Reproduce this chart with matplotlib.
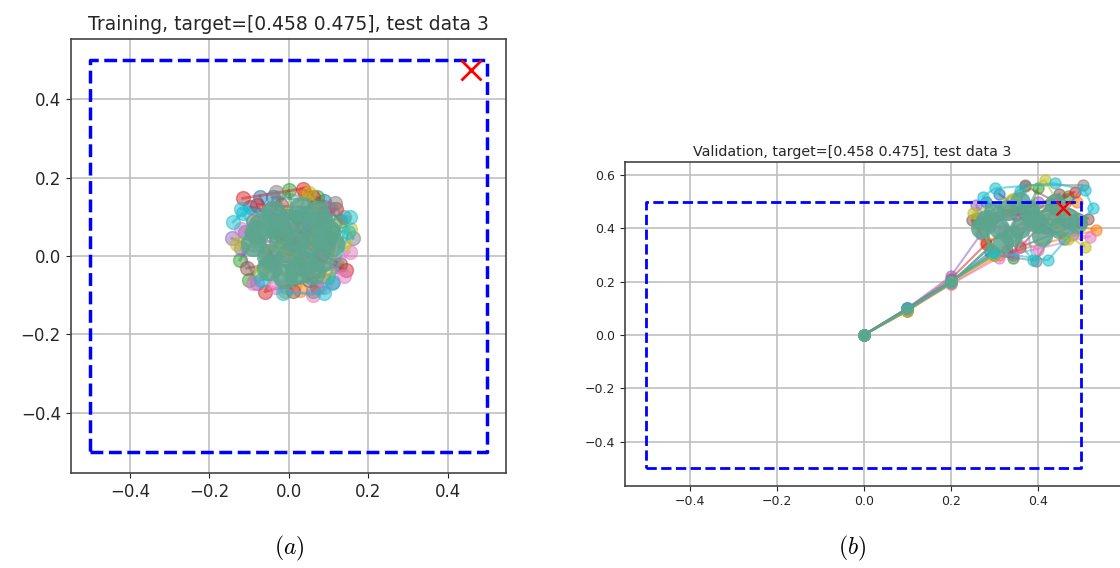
import matplotlib
matplotlib.use('Agg')
import matplotlib.pyplot as plt

# target position
target = [0.458, 0.475]

# training: points per test run (tab10 color order)
train_x = [
    [-0.073, -0.02, 0.03, -0.098, 0.05, -0.05, -0.04, 0.09, -0.11],
    [0.028, 0.06, -0.03, 0.10, -0.06, 0.08, 0.12, -0.01, 0.04],
    [-0.123, 0.0, 0.04, -0.04, 0.11, 0.02, -0.10, 0.07, 0.13],
    [-0.116, 0.036, 0.061, -0.06, 0.145, 0.0, 0.09, 0.12, -0.08, 0.07],
    [-0.143, 0.111, -0.05, 0.03, 0.07, -0.12, -0.08, 0.10],
    [-0.106, 0.08, -0.02, 0.05, 0.13, -0.09, 0.01],
    [-0.09, 0.061, 0.153, -0.031, 0.0, 0.14, -0.12, 0.09],
    [0.162, 0.116, -0.031, 0.02, -0.08, 0.14, 0.06],
    [0.153, -0.07, 0.10, -0.02, -0.13, 0.05, 0.14],
    [-0.14, -0.115, -0.014, 0.09, 0.153, 0.03, -0.12, 0.15, 0.11, -0.07],
]
train_y = [
    [0.151, 0.05, 0.0, 0.126, 0.08, -0.02, 0.15, 0.14, 0.06],
    [-0.087, 0.04, 0.09, 0.02, 0.01, 0.12, -0.02, -0.09, 0.16],
    [-0.01, 0.168, -0.03, 0.06, 0.06, 0.10, -0.06, 0.15, 0.09],
    [0.147, 0.172, 0.151, -0.091, -0.036, 0.02, 0.10, 0.12, 0.13, -0.08],
    [0.045, -0.065, 0.12, 0.06, -0.02, 0.02, -0.07, 0.12],
    [-0.031, 0.0, 0.13, -0.06, -0.02, 0.09, -0.09],
    [-0.07, -0.099, 0.011, -0.078, 0.07, -0.05, 0.07, -0.08],
    [0.045, 0.134, 0.164, 0.03, 0.04, 0.10, -0.09],
    [0.07, -0.04, -0.05, 0.02, 0.03, 0.16, 0.03],
    [0.087, 0.109, -0.095, -0.095, 0.10, 0.11, 0.12, 0.06, -0.07, -0.06],
]
train_core_x = [-0.09, -0.07, -0.05, -0.04, -0.02, 0.0, 0.0, 0.02, 0.03, 0.05, 0.06, 0.08, 0.07,
                0.09, 0.10, -0.08, -0.05, -0.01, 0.04, 0.06, 0.11, 0.02, -0.03, 0.08]
train_core_y = [0.03, 0.08, 0.0, 0.11, 0.05, 0.0, 0.09, -0.04, 0.12, 0.03, 0.08, -0.01, 0.11,
                0.04, 0.06, 0.06, -0.03, -0.05, -0.02, -0.04, 0.03, 0.04, 0.08, 0.09]

# validation: trajectories from the origin
val_x = [
    [0, 0.1, 0.2, 0.29, 0.28, 0.35, 0.42, 0.31, 0.46],
    [0, 0.1, 0.2, 0.31, 0.535, 0.45, 0.33, 0.49, 0.28],
    [0, 0.1, 0.2, 0.30, 0.343, 0.40, 0.37, 0.47, 0.26],
    [0, 0.1, 0.2, 0.28, 0.485, 0.30, 0.44, 0.36, 0.50],
    [0, 0.1, 0.2, 0.27, 0.259, 0.343, 0.40, 0.29, 0.48],
    [0, 0.1, 0.2, 0.30, 0.248, 0.516, 0.37, 0.33, 0.45],
    [0, 0.1, 0.2, 0.31, 0.52, 0.32, 0.46, 0.27, 0.40],
    [0, 0.1, 0.2, 0.30, 0.396, 0.504, 0.37, 0.26, 0.44],
    [0, 0.1, 0.2, 0.30, 0.251, 0.416, 0.508, 0.34, 0.47],
    [0, 0.1, 0.2, 0.30, 0.297, 0.424, 0.527, 0.508, 0.439, 0.301, 0.274, 0.389, 0.36],
]
val_y = [
    [0, 0.10, 0.20, 0.31, 0.50, 0.45, 0.40, 0.53, 0.36],
    [0, 0.09, 0.19, 0.30, 0.394, 0.42, 0.47, 0.50, 0.35],
    [0, 0.095, 0.20, 0.30, 0.29, 0.55, 0.45, 0.52, 0.44],
    [0, 0.10, 0.21, 0.34, 0.537, 0.44, 0.47, 0.33, 0.42],
    [0, 0.10, 0.22, 0.38, 0.487, 0.30, 0.50, 0.41, 0.38],
    [0, 0.09, 0.20, 0.31, 0.431, 0.437, 0.56, 0.32, 0.53],
    [0, 0.095, 0.19, 0.29, 0.369, 0.40, 0.45, 0.44, 0.32],
    [0, 0.10, 0.20, 0.30, 0.279, 0.562, 0.562, 0.42, 0.51],
    [0, 0.09, 0.20, 0.30, 0.456, 0.581, 0.331, 0.51, 0.36],
    [0, 0.10, 0.20, 0.31, 0.312, 0.281, 0.475, 0.544, 0.569, 0.55, 0.519, 0.28, 0.54],
]
val_core_x = [0, 0.1, 0.2, 0.29, 0.28, 0.31, 0.33, 0.36, 0.40, 0.43, 0.38, 0.34, 0.45, 0.47,
              0.30, 0.41, 0.36, 0.49, 0.32, 0.44, 0.39, 0.27]
val_core_y = [0, 0.095, 0.195, 0.33, 0.43, 0.40, 0.47, 0.40, 0.42, 0.45, 0.47, 0.37, 0.40, 0.44,
              0.46, 0.37, 0.50, 0.42, 0.35, 0.49, 0.44, 0.40]

box_x = [-0.5, 0.5, 0.5, -0.5, -0.5]
box_y = [-0.5, -0.5, 0.5, 0.5, -0.5]

colors = ['C%d' % i for i in range(10)]
core_color = '#5ca58e'

plt.rcParams['mathtext.fontset'] = 'cm'
fig = plt.figure(figsize=(11.2, 5.68), dpi=100)

# (a) training
ax1 = fig.add_axes([0.0631, 0.1673, 0.3887, 0.7646])
for i in range(len(train_x)):
    ax1.plot(train_x[i], train_y[i], 'o-', color=colors[i], alpha=0.5, ms=10, lw=2)
ax1.scatter(train_core_x, train_core_y, s=330, color=core_color, alpha=0.85, lw=0, zorder=3)
ax1.plot(box_x, box_y, 'b--', lw=2.5, zorder=4)
ax1.plot(target[0], target[1], 'rx', ms=14, mew=2, zorder=5)
ax1.set_xlim(-0.549, 0.547)
ax1.set_ylim(-0.553, 0.554)
ax1.set_xticks([-0.4, -0.2, 0.0, 0.2, 0.4])
ax1.set_yticks([-0.4, -0.2, 0.0, 0.2, 0.4])
ax1.tick_params(labelsize=12, colors='#262626')
ax1.grid(True, color='#c0c0c0', lw=1.2)
ax1.set_axisbelow(True)
for s in ax1.spines.values():
    s.set_color('#444444')
    s.set_linewidth(1.2)
ax1.set_title('Training, target=[0.458 0.475], test data 3', fontsize=13.5, color='#262626')

# (b) validation
ax2 = fig.add_axes([0.558, 0.1449, 0.4536, 0.5704])
for i in range(len(val_x)):
    ax2.plot(val_x[i], val_y[i], 'o-', color=colors[i], alpha=0.55, ms=8, lw=1.5)
ax2.scatter(val_core_x[4:], val_core_y[4:], s=230, color=core_color, alpha=0.85, lw=0, zorder=3)
ax2.plot(val_core_x[:5], val_core_y[:5], 'o-', color=core_color, ms=6, lw=1.8, alpha=0.9)
ax2.plot(box_x, box_y, 'b--', lw=2, zorder=4)
ax2.plot(target[0], target[1], 'rx', ms=10, mew=1.8, zorder=5)
ax2.set_xlim(-0.549, 0.619)
ax2.set_ylim(-0.565, 0.65)
ax2.set_xticks([-0.4, -0.2, 0.0, 0.2, 0.4])
ax2.set_yticks([-0.4, -0.2, 0.0, 0.2, 0.4, 0.6])
ax2.tick_params(labelsize=9, colors='#262626')
ax2.grid(True, color='#c0c0c0', lw=1.2)
ax2.set_axisbelow(True)
for s in ax2.spines.values():
    s.set_color('#444444')
    s.set_linewidth(1.2)
ax2.set_title('Validation, target=[0.458 0.475], test data 3', fontsize=10.3,
              color='#262626', x=0.447, pad=4)

fig.text(289 / 1120, 1 - 548 / 568, '$(a)$', fontsize=17, ha='center', va='center')
fig.text(852 / 1120, 1 - 548 / 568, '$(b)$', fontsize=17, ha='center', va='center')

fig.savefig('out.png', dpi=100)
